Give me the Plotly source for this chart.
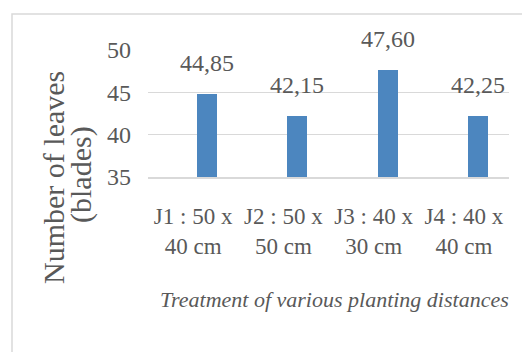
import plotly.graph_objects as go

# Planting-distance treatments and mean number of leaves per plant
categories = ["J1 : 50 x<br>40 cm", "J2 : 50 x<br>50 cm", "J3 : 40 x<br>30 cm", "J4 : 40 x<br>40 cm"]
leaves = [44.85, 42.15, 47.60, 42.25]
y_ticks = [35, 40, 45, 50]

BAR_COLOR = "#4C86BF"
GRID = "#D9D9D9"
TEXT = "#595959"
SERIF = "Liberation Serif"

BAR_WIDTH = 0.22
BAR_OFFSET = 0.045

W, H = 522, 352
L, R, T, B = 148, 13, 50, 175
PW, PH = W - L - R, H - T - B


def px_x(px):
    return (px - L) / PW


def px_y(py):
    return (H - B - py) / PH


fig = go.Figure(
    go.Bar(
        x=categories,
        y=leaves,
        width=BAR_WIDTH,
        offset=BAR_OFFSET,
        marker=dict(color=BAR_COLOR, line=dict(width=0)),
        hoverinfo="skip",
    )
)

# value labels above each bar, decimal comma
for i, v in enumerate(leaves):
    fig.add_annotation(
        x=i + BAR_OFFSET + BAR_WIDTH / 2,
        y=v,
        xref="x",
        yref="y",
        text=f"{v:.2f}".replace(".", ","),
        showarrow=False,
        yanchor="middle",
        yshift=31,
        font=dict(family=SERIF, size=24, color=TEXT),
    )

# y-axis title in two lines
fig.add_annotation(
    x=px_x(53), y=px_y(178), xref="paper", yref="paper",
    text="Number of leaves", textangle=-90, showarrow=False,
    xanchor="center", yanchor="middle",
    font=dict(family=SERIF, size=30, color=TEXT),
)
fig.add_annotation(
    x=px_x(81), y=px_y(175), xref="paper", yref="paper",
    text="(blades)", textangle=-90, showarrow=False,
    xanchor="center", yanchor="middle",
    font=dict(family=SERIF, size=30, color=TEXT),
)

# x-axis title
fig.add_annotation(
    x=px_x(334), y=px_y(299), xref="paper", yref="paper",
    text="<i>Treatment of various planting distances</i>", showarrow=False,
    xanchor="center", yanchor="middle",
    font=dict(family=SERIF, size=22, color=TEXT),
)

# chart frame
fig.add_shape(
    type="rect", xref="paper", yref="paper",
    x0=px_x(12), y0=px_y(400), x1=px_x(560), y1=px_y(14),
    line=dict(color=GRID, width=1.5), fillcolor="rgba(0,0,0,0)", layer="below",
)

fig.update_layout(
    width=W,
    height=H,
    margin=dict(l=L, r=R, t=T, b=B, pad=0),
    paper_bgcolor="white",
    plot_bgcolor="white",
    showlegend=False,
    bargap=0,
    font=dict(family=SERIF),
)

fig.update_xaxes(
    type="category",
    range=[-0.5, len(categories) - 0.5],
    showgrid=False,
    showline=True,
    linecolor=GRID,
    linewidth=1.6,
    ticks="",
    tickangle=0,
    ticklabelstandoff=18,
    tickfont=dict(family=SERIF, size=23, color=TEXT),
    fixedrange=True,
)

fig.update_yaxes(
    range=[35, 50],
    tickvals=y_ticks,
    showgrid=True,
    gridcolor=GRID,
    gridwidth=1.4,
    zeroline=False,
    showline=False,
    ticks="",
    ticklabelstandoff=16,
    tickfont=dict(family=SERIF, size=24, color=TEXT),
    fixedrange=True,
)

fig.write_html("out.html")
